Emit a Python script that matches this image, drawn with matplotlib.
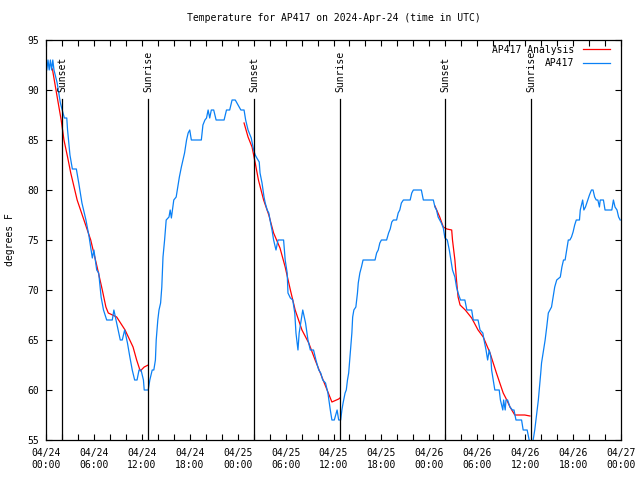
import numpy as np
import pandas as pd
import matplotlib
matplotlib.use("Agg")
import matplotlib.pyplot as plt
import matplotlib.dates as mdates

# hours after 2024-04-24 00:00 UTC, temperature in F
obs_hours = [0.1, 0.25, 0.4, 0.55, 0.7, 0.85, 1.0, 1.4, 1.8, 2.1, 2.3, 2.6, 2.7, 3.0, 3.3, 3.8,
             4.1, 4.5, 5.0, 5.4, 5.8, 6.0, 6.35, 6.6, 6.9, 7.2, 7.6, 8.3, 8.5, 8.85, 9.3, 9.55,
             9.85, 10.2, 10.5, 10.8, 11.1, 11.4, 11.65, 11.9, 12.2, 12.3, 12.8, 13.0, 13.3, 13.5,
             13.7, 13.8, 14.0, 14.15, 14.35, 14.5, 14.65, 14.85, 15.05, 15.4, 15.55, 15.7, 16.0,
             16.3, 16.5, 16.7, 16.95, 17.15, 17.35, 17.6, 17.8, 18.0, 18.2, 19.45, 19.65, 19.9,
             20.1, 20.3, 20.5, 20.7, 21.0, 21.3, 22.3, 22.6, 23.0, 23.3, 23.7, 24.05, 24.4, 24.8,
             25.0, 25.3, 25.7, 26.0, 26.2, 26.4, 26.7, 26.8, 27.05, 27.3, 27.45, 27.7, 27.9, 28.1,
             28.3, 28.5, 28.8, 29.05, 29.75, 29.95, 30.2, 30.3, 30.6, 30.9, 31.15, 31.3, 31.55,
             31.7, 31.95, 32.15, 32.5, 32.8, 33.1, 33.5, 33.8, 34.15, 34.4, 34.65, 35.0, 35.3,
             35.6, 35.8, 36.1, 36.45, 36.65, 36.9, 37.05, 37.2, 37.45, 37.6, 37.75, 37.9, 38.0,
             38.15, 38.3, 38.4, 38.55, 38.8, 39.0, 39.1, 39.3, 39.5, 39.7, 41.2, 41.4, 41.6, 41.8,
             42.0, 42.65, 42.9, 43.1, 43.3, 43.5, 43.9, 44.1, 44.3, 44.5, 44.75, 45.6, 45.8, 46.0,
             47.0, 47.25, 48.5, 48.7, 48.9, 49.1, 49.3, 49.5, 49.75, 49.95, 50.25, 50.5, 50.7,
             50.9, 51.2, 51.4, 51.6, 51.9, 52.45, 52.7, 53.3, 53.5, 54.1, 54.35, 54.7, 54.85,
             55.1, 55.3, 55.5, 55.7, 55.8, 56.0, 56.2, 56.75, 56.9, 57.2, 57.3, 57.5, 57.6, 57.8,
             58.1, 58.4, 58.6, 58.85, 59.55, 59.75, 60.25, 60.5, 60.9, 61.0, 61.2, 61.45, 61.65,
             61.8, 61.95, 62.05, 62.3, 62.5, 62.7, 62.9, 63.1, 63.3, 63.5, 63.7, 63.95, 64.4,
             64.6, 64.8, 65.0, 65.2, 65.4, 65.6, 65.8, 66.0, 66.2, 66.4, 66.8, 66.9, 67.2, 67.35,
             67.55, 67.85, 68.05, 68.3, 68.5, 68.7, 68.9, 69.1, 69.3, 69.4, 69.8, 70.0, 70.85,
             71.05, 71.25, 71.5, 71.7, 71.9]
obs_temp = [92, 93, 92, 93, 92, 93, 92, 90.7, 88.7, 87.8, 87.2, 87.2, 86, 83.5, 82.1, 82.1,
            80.7, 78.7, 77, 75.3, 73.2, 74, 72, 71.7, 69.3, 68, 67, 67, 68, 66.7, 65, 65,
            66, 64.7, 63.3, 62, 61, 61, 62, 62, 61, 60, 60, 61, 62, 62,
            63, 65, 67, 68, 68.7, 70.3, 73.3, 75, 77, 77.3, 78, 77.2, 79,
            79.3, 80.3, 81.3, 82.3, 83, 83.7, 85, 85.7, 86, 85, 85, 86.5, 87,
            87.2, 88, 87.2, 88, 88, 87, 87, 88, 88, 89, 89, 88.5, 88, 88,
            87, 86, 85.2, 84, 83.5, 83.2, 82.8, 81.7, 80.7, 79.3, 78.7, 78, 77.7, 76.8,
            76, 75, 74, 75, 75, 73, 71.7, 69.7, 69.2, 69, 67.7, 65.7, 64,
            65.7, 67, 68, 66.7, 65, 64, 64, 63, 62, 61.7, 61, 60.7, 59.7,
            58, 57, 57, 58, 57, 57, 58, 58.7, 59.7, 60, 61, 61.7, 62.7,
            64.3, 65.7, 67.3, 68, 68.3, 69.7, 70.7, 71.7, 72.3, 73, 73, 73.7, 74, 74.7,
            75, 75, 75.7, 76.1, 76.8, 77, 77, 77.7, 78, 78.7, 79, 79, 79.7, 80,
            80, 79, 79, 78.3, 78, 77.3, 77, 76.7, 76.2, 75.2, 75, 74, 73,
            72, 71.3, 70.3, 69.7, 69, 69, 68, 68, 67, 67, 66, 65.7, 65,
            64, 63, 64, 63.3, 62, 61, 60, 60, 59, 58, 59, 58, 59, 59,
            58.3, 58, 58, 57, 57, 56, 56, 55, 54.6, 55, 56, 57.7, 59,
            60.3, 61.7, 62.7, 64, 65, 66.3, 67.7, 68, 68.3, 69.3, 70.3, 71, 71.3,
            72.3, 73, 73, 74, 75, 75, 75.3, 75.8, 76.5, 77, 77, 78, 79, 78,
            78.3, 79, 79.5, 80, 80, 79.3, 79, 79, 78.3, 79, 79, 78, 78,
            79, 78.3, 78, 77.3, 77]

ana1_hours = [0.8, 1.4, 1.9, 2.25, 2.7, 3.1, 3.9, 4.75, 5.6, 6.4, 7.05, 7.5, 7.8, 8.85, 9.9,
              10.9, 11.35, 11.8, 12.3, 12.8]
ana1_temp = [92.1, 89.3, 87, 85, 83.3, 81.7, 79, 77, 75, 72.3, 70, 68.3, 67.7, 67.3, 66,
             64.3, 63, 61.9, 62.3, 62.5]
ana2_hours = [24.8, 25.3, 25.8, 26.2, 26.6, 27.25, 27.9, 28.5, 29.3, 29.95, 30.6, 31.2, 32.05,
              32.9, 33.7, 34.55, 35.2, 35.8, 36.65, 36.8]
ana2_temp = [86.7, 85.3, 84.3, 82.7, 81, 79, 77.5, 75.7, 74.2, 72.3, 70, 68, 66,
             64.7, 63, 61.3, 60, 58.8, 59.1, 59.2]
ana3_hours = [48.7, 49.3, 49.75, 50.2, 50.8, 50.9, 51.2, 51.4, 51.6, 51.85, 52.5, 53.3, 54.1,
              54.75, 55.6, 56.0, 56.4, 57.25, 57.7, 58.1, 58.7, 59.35, 59.95, 60.6]
ana3_temp = [78.4, 77.3, 76.3, 76.1, 76, 75, 73, 71, 69.3, 68.5, 68, 67.2, 66,
             65.3, 63.7, 62.7, 61.7, 59.7, 59, 58.3, 57.5, 57.5, 57.5, 57.4]

sun_hours = [2.0, 12.77, 26.05, 36.8, 49.97, 60.73]
sun_labels = ["Sunset", "Sunrise", "Sunset", "Sunrise", "Sunset", "Sunrise"]

base = pd.Timestamp("2024-04-24 00:00")


def to_time(h):
    return (base + pd.to_timedelta(np.asarray(h, dtype=float), unit="h")).to_pydatetime()


plt.rcParams['font.family'] = ['DejaVu Sans Mono']

fig = plt.figure(figsize=(6.4, 4.8), dpi=100)
ax = fig.add_axes([46 / 640, 40 / 480, 575 / 640, 400 / 480])

for i, (hh, vv) in enumerate([(ana1_hours, ana1_temp), (ana2_hours, ana2_temp), (ana3_hours, ana3_temp)]):
    ax.plot(to_time(hh), vv, color='#ff0000', linewidth=0.9,
            label='AP417 Analysis' if i == 0 else None)
ax.plot(to_time(obs_hours), obs_temp, color='#0a80f5', linewidth=0.9, label='AP417')

for h, lab in zip(sun_hours, sun_labels):
    t = to_time([h])[0]
    ax.plot([t, t], [55, 89.1], color='black', linewidth=0.9)
    ax.text(t, 89.8, lab, rotation=90, ha='center', va='bottom', fontsize=7)

ax.set_xlim(base.to_pydatetime(), (base + pd.Timedelta(hours=72)).to_pydatetime())
ax.set_ylim(55, 95)
ax.set_yticks(np.arange(55, 96, 5))
ax.xaxis.set_major_locator(mdates.HourLocator(byhour=[0, 6, 12, 18]))
ax.xaxis.set_minor_locator(mdates.HourLocator(byhour=range(0, 24, 2)))
ax.xaxis.set_major_formatter(mdates.DateFormatter('%m/%d\n%H:%M'))
ax.tick_params(which='both', direction='in', top=True, right=True, length=4, width=0.8,
               labelsize=7)
ax.tick_params(axis='x', pad=6)
ax.tick_params(axis='y', pad=5)
for s in ax.spines.values():
    s.set_linewidth(0.9)

ax.set_title('Temperature for AP417 on 2024-Apr-24 (time in UTC)', fontsize=7, pad=14)
fig.text(10 / 640, 0.5, 'degrees F', rotation=90, ha='center', va='center', fontsize=7)

ax.legend(loc='upper right', bbox_to_anchor=(0.988, 0.998), frameon=False, markerfirst=False,
          fontsize=7, handlelength=2.8, borderaxespad=0, labelspacing=0.35, handletextpad=0.9)

fig.savefig('out.png', dpi=100)
